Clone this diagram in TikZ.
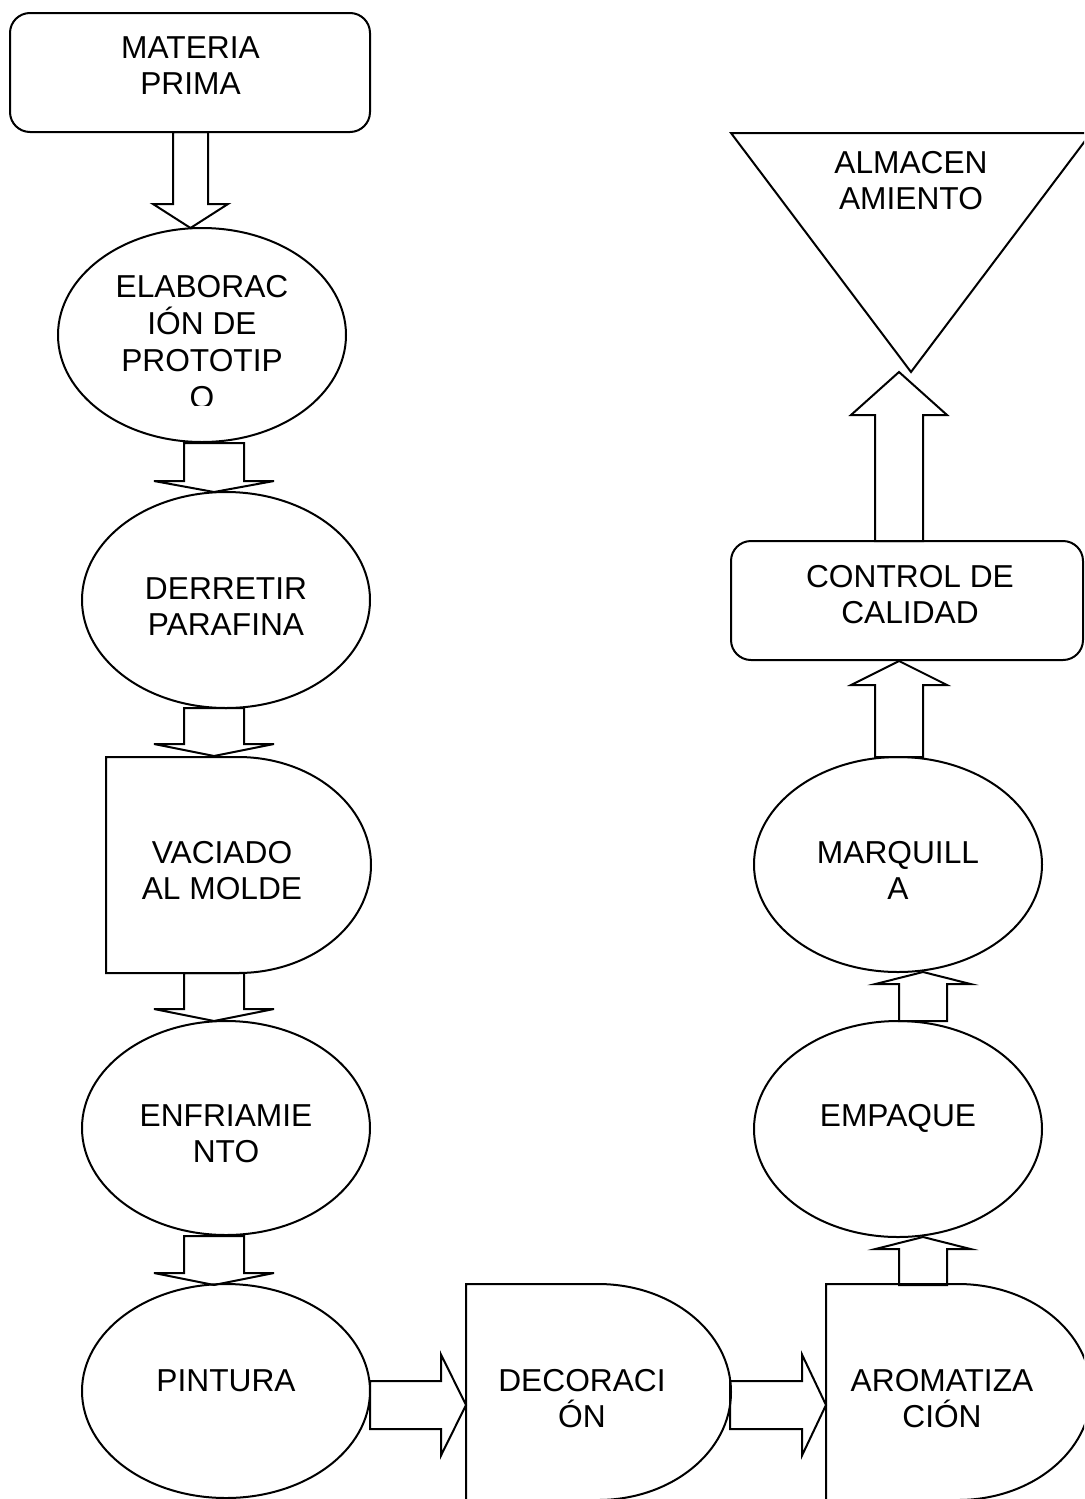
\documentclass[tikz,border=0pt]{standalone}
\usepackage{fontspec}
\setmainfont{Liberation Sans}
\usetikzlibrary{shapes.geometric}
\tikzset{
  blk/.style={draw=black, line width=1pt, line join=miter},
  shp/.style={draw=black, line width=1pt},
  ell/.style={shp, ellipse, inner sep=0pt},
  lbl/.style={inner sep=0pt, anchor=base, font=\fontsize{15.85}{18}\selectfont}
}
% vertical block arrow: xc, shaft half, head half, y start, y head base, y tip
\newcommand\bkv[6]{\draw[blk] ({#1-#2},#4) -- ({#1-#2},#5) -- ({#1-#3},#5) -- (#1,#6) -- ({#1+#3},#5) -- ({#1+#2},#5) -- ({#1+#2},#4) -- cycle;}
% horizontal block arrow: yc, shaft half, head half, x start, x head base, x tip
\newcommand\bkh[6]{\draw[blk] (#4,{#1-#2}) -- (#5,{#1-#2}) -- (#5,{#1-#3}) -- (#6,#1) -- (#5,{#1+#3}) -- (#5,{#1+#2}) -- (#4,{#1+#2}) -- cycle;}
\begin{document}
\begin{tikzpicture}[x=0.5pt,y=-0.5pt]
\useasboundingbox (0,0) rectangle (1084,1499);
\fill[white] (0,0) rectangle (1084,1499);
\clip (0,0) rectangle (1084,1499);

% MATERIA PRIMA
\draw[shp, rounded corners=10pt] (10,13) rectangle (370,132);
\node[lbl] (mp1) at (190.5,58) {MATERIA};
\node[lbl] (mp2) at (190.5,94) {PRIMA};

% ELABORACION DE PROTOTIPO
\node[ell, minimum width=144pt, minimum height=107pt] (elab) at (202,335) {};
\node[lbl] (el1) at (202,297) {ELABORAC};
\node[lbl] (el2) at (202,334) {IÓN DE};
\node[lbl] (el3) at (202,371) {PROTOTIP};
\begin{scope}
  \clip (0,0) rectangle (1084,405);
  \node[lbl] (el4) at (202,408) {O};
\end{scope}

% DERRETIR PARAFINA
\node[ell, minimum width=144pt, minimum height=108pt] (derr) at (226,600) {};
\node[lbl] (de1) at (226,599) {DERRETIR};
\node[lbl] (de2) at (226,635) {PARAFINA};

% VACIADO AL MOLDE (delay)
\draw[shp] (106,757) -- (238,757) arc[start angle=-90, end angle=90, x radius=133, y radius=108] -- (106,973) -- cycle;
\node[lbl] (va1) at (222,863) {VACIADO};
\node[lbl] (va2) at (222,899) {AL MOLDE};

% ENFRIAMIENTO
\node[ell, minimum width=144pt, minimum height=107pt] (enf) at (226,1128) {};
\node[lbl] (en1) at (226,1126) {ENFRIAMIE};
\node[lbl] (en2) at (226,1162) {NTO};

% PINTURA
\node[ell, minimum width=144pt, minimum height=107pt] (pint) at (226,1391) {};
\node[lbl] (pi1) at (226,1391) {PINTURA};

% DECORACION (delay)
\draw[shp] (466,1284) -- (598,1284) arc[start angle=-90, end angle=90, x radius=133, y radius=108] -- (466,1500) -- cycle;
\node[lbl] (dc1) at (582,1391) {DECORACI};
\node[lbl] (dc2) at (582,1427) {ÓN};

% AROMATIZACION (delay)
\draw[shp] (826,1284) -- (958,1284) arc[start angle=-90, end angle=90, x radius=133, y radius=108] -- (826,1500) -- cycle;
\node[lbl] (ar1) at (942,1391) {AROMATIZA};
\node[lbl] (ar2) at (942,1427) {CIÓN};

% EMPAQUE
\node[ell, minimum width=144pt, minimum height=108pt] (emp) at (898,1129) {};
\node[lbl] (em1) at (898,1126) {EMPAQUE};

% MARQUILLA
\node[ell, minimum width=144pt, minimum height=107.5pt] (marq) at (898,864.5) {};
\node[lbl] (ma1) at (898,863) {MARQUILL};
\node[lbl] (ma2) at (898,899) {A};

% CONTROL DE CALIDAD
\draw[shp, rounded corners=10pt] (731,541) rectangle (1083,660);
\node[lbl] (cc1) at (910,587) {CONTROL DE};
\node[lbl] (cc2) at (910,623) {CALIDAD};

% ALMACENAMIENTO
\draw[shp, line join=miter] (731,133) -- (1091,133) -- (911,372) -- cycle;
\node[lbl] (al1) at (911,173) {ALMACEN};
\node[lbl] (al2) at (911,209.5) {AMIENTO};

% block arrows
\bkv{190.5}{17.5}{37.5}{132}{204}{228}
\bkv{214}{30}{60}{443}{481}{492}
\bkv{214}{30}{60}{708}{744}{756}
\bkv{214}{30}{60}{973}{1009}{1021}
\bkv{214}{30}{60}{1236}{1273}{1285}
\bkh{1405}{24}{50.5}{370}{441}{466}
\bkh{1405}{24}{50.5}{730}{802}{826}
\bkv{923}{24}{47.5}{1285}{1249}{1237}
\bkv{923}{24}{47.5}{1021}{984}{972}
\bkv{899}{24}{48}{757}{685}{661}
\bkv{899}{24}{48}{541}{415}{372}
\end{tikzpicture}
\end{document}
